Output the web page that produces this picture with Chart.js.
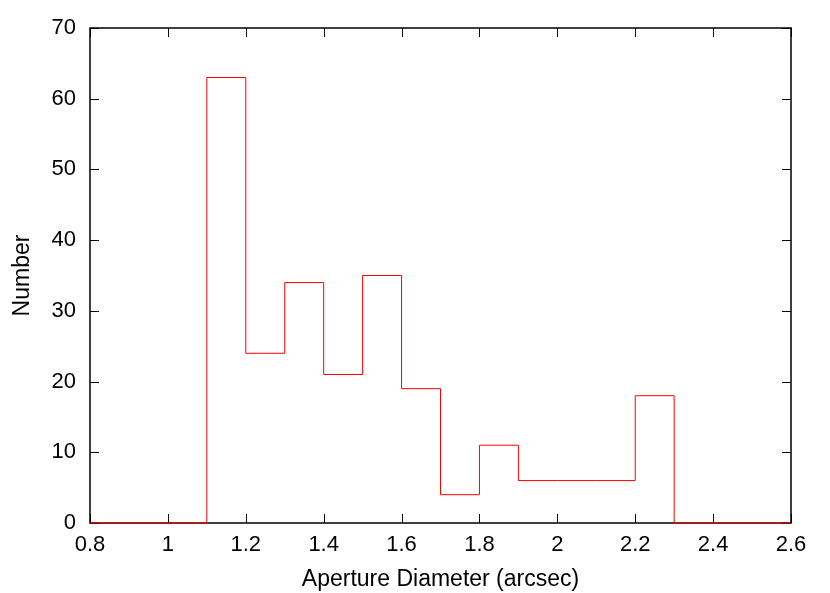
<!DOCTYPE html>
<html>
<head>
<meta charset="utf-8">
<script src="https://cdn.jsdelivr.net/npm/chart.js@4/dist/chart.umd.min.js"></script>
<style>
html,body{margin:0;padding:0;background:#fff;}
#wrap{width:830px;height:593px;}
</style>
</head>
<body>
<div id="wrap"><canvas id="c" width="830" height="593"></canvas></div>
<script>
// Bin left edges (arcsec) and counts (last edge closes the histogram)
const binEdges = [0.8,0.9,1.0,1.1,1.2,1.3,1.4,1.5,1.6,1.7,1.8,1.9,2.0,2.1,2.2,2.3,2.4,2.5,2.6];
const counts   = [0,  0,  0,  63, 24, 34, 21, 35, 19, 4,  11, 6,  6,  6,  18, 0,  0,  0,  0];
const xTicks = [0.8,1.0,1.2,1.4,1.6,1.8,2.0,2.2,2.4,2.6];
const yTicks = [0,10,20,30,40,50,60,70];
const xLabel = 'Aperture Diameter (arcsec)';
const yLabel = 'Number';

// each count holds from its left edge to the next edge
const pts = [];
binEdges.forEach((x,i)=>{
  pts.push({x:x,y:counts[i]});
});

const FONT = 'Liberation Sans, Arial, sans-serif';

const boxPlugin = {
  id:'box',
  beforeDatasetsDraw(chart){
    const {ctx, chartArea:a, scales:{x,y}} = chart;
    ctx.save();
    ctx.strokeStyle = '#000';
    ctx.lineWidth = 1;
    const tl = 9;
    ctx.beginPath();
    xTicks.forEach(v=>{
      const px = Math.round(x.getPixelForValue(v))+0.5;
      ctx.moveTo(px,a.bottom); ctx.lineTo(px,a.bottom-tl);
      ctx.moveTo(px,a.top); ctx.lineTo(px,a.top+tl);
    });
    yTicks.forEach(v=>{
      const py = Math.round(y.getPixelForValue(v))+0.5;
      ctx.moveTo(a.left,py); ctx.lineTo(a.left+tl,py);
      ctx.moveTo(a.right,py); ctx.lineTo(a.right-tl,py);
    });
    ctx.stroke();
    ctx.lineWidth = 1.5;
    ctx.strokeRect(a.left, a.top, a.right-a.left, a.bottom-a.top);
    ctx.restore();
  }
};

new Chart(document.getElementById('c'), {
  type:'line',
  data:{datasets:[{
    data:pts,
    stepped:'before',
    borderColor:'#ff0000',
    borderWidth:1,
    pointRadius:0,
    fill:false,
    clip:false
  }]},
  options:{
    responsive:false,
    animation:false,
    devicePixelRatio:1,
    layout:{padding:{left:0,top:28,right:39,bottom:0}},
    plugins:{legend:{display:false},tooltip:{enabled:false}},
    scales:{
      x:{
        type:'linear',min:0.8,max:2.6,
        afterBuildTicks(s){ s.ticks = xTicks.map(v=>({value:v})); },
        afterFit(s){ s.height = 70; },
        grid:{display:false,drawTicks:false},
        border:{display:false},
        ticks:{color:'#000',padding:9,maxRotation:0,font:{family:FONT,size:22},
          callback:(v)=>String(Math.round(v*10)/10)},
        title:{display:true,text:xLabel,color:'#000',font:{family:FONT,size:23},padding:{top:0,bottom:0}}
      },
      y:{
        type:'linear',min:0,max:70,
        afterBuildTicks(s){ s.ticks = yTicks.map(v=>({value:v})); },
        afterFit(s){ s.width = 90; },
        grid:{display:false,drawTicks:false},
        border:{display:false},
        ticks:{color:'#000',padding:14,font:{family:FONT,size:22}},
        title:{display:true,text:yLabel,color:'#000',font:{family:FONT,size:23},padding:{top:9,bottom:0}}
      }
    }
  },
  plugins:[boxPlugin]
});
</script>
</body>
</html>
